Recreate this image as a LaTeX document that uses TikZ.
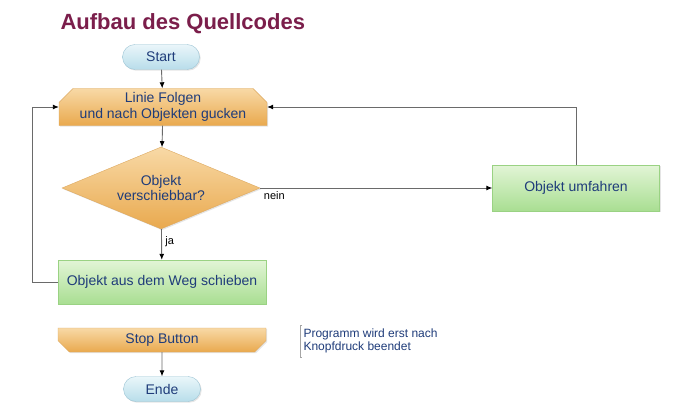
\documentclass[tikz,border=0pt]{standalone}
\usepackage{fontspec}
\setmainfont{Liberation Sans}
\usetikzlibrary{shapes.geometric,shapes.misc,shadows,arrows.meta}

\definecolor{titlered}{HTML}{7B1E4B}
\definecolor{textblue}{HTML}{1F3C7A}
\definecolor{linegray}{HTML}{6A6A6A}
\definecolor{orangetop}{HTML}{F8D9A6}
\definecolor{orangebot}{HTML}{E9A94E}
\definecolor{orangeline}{HTML}{DDA960}
\definecolor{greentop}{HTML}{E2F5D6}
\definecolor{greenbot}{HTML}{A9DE92}
\definecolor{greenline}{HTML}{9AD283}
\definecolor{bluetop}{HTML}{EAF6FA}
\definecolor{bluebot}{HTML}{B8DDEA}
\definecolor{blueline}{HTML}{9CC4D4}

\tikzset{
    shade/.style={drop shadow={opacity=0.2,shadow xshift=1.2pt,shadow yshift=-1.2pt}},
    boxfont/.style={font=\fontsize{14}{15.5}\selectfont},
    terminal/.style={rounded rectangle, draw=blueline, top color=bluetop, bottom color=bluebot,
        minimum width=77pt, minimum height=25pt, inner sep=0pt, text=textblue, boxfont, shade},
    looptop/.style={chamfered rectangle, chamfered rectangle corners={north west,north east},
        chamfered rectangle xsep=10pt, chamfered rectangle ysep=4pt,
        draw=orangeline, top color=orangetop, bottom color=orangebot, inner sep=0pt,
        text=textblue, align=center, boxfont, shade},
    loopbottom/.style={looptop, chamfered rectangle corners={south west,south east},
        chamfered rectangle ysep=5pt},
    decision/.style={diamond, aspect=2.4, draw=orangeline, top color=orangetop, bottom color=orangebot,
        minimum width=198pt, minimum height=82pt, inner sep=0pt, text=textblue, align=center,
        boxfont, shade},
    process/.style={rectangle, draw=greenline, top color=greentop, bottom color=greenbot,
        inner sep=0pt, text=textblue, boxfont, shade},
    arr/.style={draw=linegray, line width=0.9pt, -{Latex[length=6pt,width=5pt,black]}},
    lbl/.style={font=\fontsize{11}{13}\selectfont, text=black},
}

\begin{document}
\begin{tikzpicture}[x=1pt,y=-1pt]
    \useasboundingbox[fill=white] (0,0) rectangle (686,404);
    % title
    \node[anchor=west, text=titlered, font=\fontsize{22}{26}\selectfont\bfseries] (title) at (57,24) {Aufbau des Quellcodes};
    % main column
    \node[terminal] (start) at (161,57) {Start};
    \node[looptop, minimum width=208pt, minimum height=37pt] (linie) at (163,107) {Linie Folgen\\und nach Objekten gucken};
    \node[decision] (frage) at (161,188) {Objekt\\verschiebbar?};
    \node[process, minimum width=208pt, minimum height=44pt] (weg) at (162,282) {Objekt aus dem Weg schieben};
    \node[process, minimum width=167pt, minimum height=46pt] (umfahren) at (576,188) {Objekt umfahren};
    \node[loopbottom, minimum width=208pt, minimum height=24pt] (stop) at (162,340) {Stop Button};
    \node[terminal] (ende) at (162,389) {Ende};
    % note
    \node[anchor=west, align=left, text=textblue, font=\fontsize{12}{13.5}\selectfont] (hinweis) at (300,341) {Programm wird erst nach\\Knopfdruck beendet};
    \draw[linegray!60, line width=0.6pt] ([xshift=2pt]hinweis.north west) -- (hinweis.north west) -- (hinweis.south west) -- ([xshift=2pt]hinweis.south west);
    % connectors
    \draw[arr] (start) -- (linie);
    \draw[arr] (linie) -- (frage);
    \draw[arr] (frage) -- node[lbl, right, pos=0.4] {ja} (weg);
    \draw[arr] (frage.east) -- node[lbl, below right, pos=0] {nein} (umfahren.west);
    \draw[arr] (umfahren.north) |- (linie.east);
    \draw[arr] (weg.west) -- ++(-25,0) |- (linie.west);
    \draw[arr] (stop) -- (ende);
\end{tikzpicture}
\end{document}
